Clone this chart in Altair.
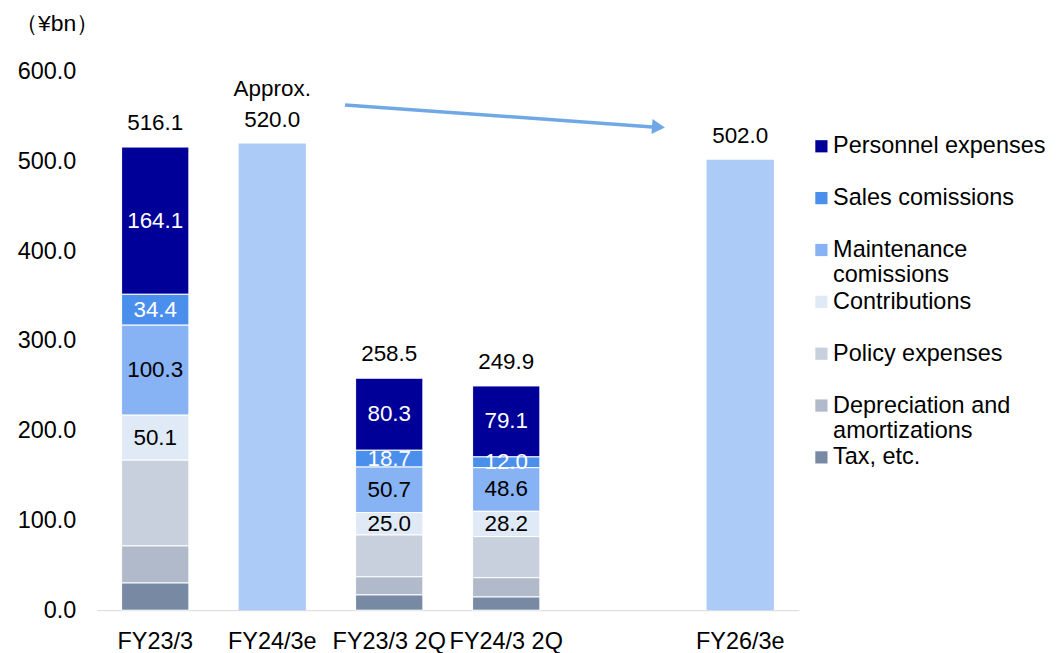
import altair as alt
import pandas as pd

# ---------------- data ----------------
categories = ["FY23/3", "FY24/3e", "FY23/3 2Q", "FY24/3 2Q", " ", "FY26/3e"]
series = ["Personnel expenses", "Sales comissions", "Maintenance comissions",
          "Contributions", "Policy expenses", "Depreciation and amortizations", "Tax, etc."]
series_colors = ["#000099", "#4B8FED", "#87B2F4", "#E0EAF6", "#C9D0DD", "#B1BACA", "#7889A4"]

actual_cats = ["FY23/3", "FY23/3 2Q", "FY24/3 2Q"]
personnel = [164.1, 80.3, 79.1]
sales = [34.4, 18.7, 12.0]
maintenance = [100.3, 50.7, 48.6]
contributions = [50.1, 25.0, 28.2]
policy = [95.6, 46.6, 45.8]
depreciation = [41.3, 20.2, 21.5]
tax = [30.3, 17.0, 14.7]

forecast_cats = ["FY24/3e", "FY26/3e"]
forecast_values = [520.0, 502.0]

total_cats = ["FY23/3", "FY24/3e", "FY23/3 2Q", "FY24/3 2Q", "FY26/3e"]
total_values = [516.1, 520.0, 258.5, 249.9, 502.0]

prefix_cats = ["FY24/3e"]
prefix_values = [520.0]
prefix_texts = ["Approx."]

labelled_series = ["Personnel expenses", "Sales comissions", "Maintenance comissions", "Contributions"]
light_text_series = ["Personnel expenses", "Sales comissions"]

arrow_from = ["FY24/3e"]
arrow_to = ["FY26/3e"]
arrow_y_from = [563.0]
arrow_y_to = [538.5]

y_ticks = [0, 100, 200, 300, 400, 500, 600]

# ---------------- tables ----------------
series_values = [personnel, sales, maintenance, contributions, policy, depreciation, tax]
rows = []
for i, (name, vals) in enumerate(zip(series, series_values)):
    for cat, v in zip(actual_cats, vals):
        rows.append({"cat": cat, "series": name, "value": v, "ord": len(series) - 1 - i})
seg_df = pd.DataFrame(rows)
fc_df = pd.DataFrame({"cat": forecast_cats, "value": forecast_values})
tot_df = pd.DataFrame({"cat": total_cats, "value": total_values})
pre_df = pd.DataFrame({"cat": prefix_cats, "value": prefix_values, "txt": prefix_texts})
arrow_df = pd.DataFrame({"x_from": arrow_from, "x_to": arrow_to,
                         "y_from": arrow_y_from, "y_to": arrow_y_to})

FONT = "Liberation Sans"
ARROW = "#70A8E6"

xscale = alt.Scale(domain=categories, paddingInner=0.425, paddingOuter=0.2125)
yscale = alt.Scale(domain=[0, 600], nice=False, zero=True)

x_enc = alt.X("cat:N", scale=xscale, sort=categories, title=None,
              axis=alt.Axis(labelAngle=0, labelFontSize=23.5, labelFont=FONT, labelColor="black",
                            ticks=False, tickSize=0, labelPadding=19, domainColor="#D9D9D9",
                            domainWidth=1, labelOverlap=False, labelLimit=300, grid=False))
y_axis = alt.Axis(values=y_ticks, format=".1f", labelFontSize=23.5, labelFont=FONT,
                  labelColor="black", ticks=False, tickSize=0, domain=False, grid=False,
                  labelPadding=21)

legend = alt.Legend(
    title=None, orient="none", legendX=715, legendY=63, symbolType="square", symbolSize=150,
    symbolStrokeWidth=0, labelFontSize=23.5, labelFont=FONT, labelColor="black", labelOffset=0,
    labelLimit=400, rowPadding=2, gridAlign="all", padding=0,
    labelExpr="datum.label == 'Maintenance comissions' ? ['Maintenance', 'comissions'] : "
              "datum.label == 'Depreciation and amortizations' ? ['Depreciation and', 'amortizations'] : datum.label",
)

bars = alt.Chart(seg_df).mark_bar(stroke="white", strokeWidth=1).encode(
    x=x_enc,
    y=alt.Y("value:Q", stack="zero", scale=yscale, axis=y_axis, title=None),
    color=alt.Color("series:N", scale=alt.Scale(domain=series, range=series_colors), legend=legend),
    order=alt.Order("ord:Q", sort="ascending"),
)

fc_bars = alt.Chart(fc_df).mark_bar(color="#ADCBF7").encode(
    x=alt.X("cat:N", scale=xscale, title=None),
    y=alt.Y("value:Q", scale=yscale, title=None),
)

seg_labels = alt.Chart(seg_df).transform_stack(
    stack="value", as_=["y0", "y1"], groupby=["cat"], sort=[alt.SortField("ord", order="ascending")]
).transform_calculate(
    mid="(datum.y0 + datum.y1) / 2"
).transform_filter(
    alt.FieldOneOfPredicate(field="series", oneOf=labelled_series)
).mark_text(fontSize=22.5, font=FONT, baseline="middle", align="center").encode(
    x=alt.X("cat:N", scale=xscale, title=None),
    y=alt.Y("mid:Q", scale=yscale, title=None),
    text=alt.Text("value:Q", format=".1f"),
    color=alt.condition(alt.FieldOneOfPredicate(field="series", oneOf=light_text_series),
                        alt.value("white"), alt.value("black")),
)

tot_labels = alt.Chart(tot_df).mark_text(fontSize=22.5, font=FONT, baseline="alphabetic",
                                         align="center", dy=-17, color="black").encode(
    x=alt.X("cat:N", scale=xscale, title=None),
    y=alt.Y("value:Q", scale=yscale, title=None),
    text=alt.Text("value:Q", format=".1f"),
)

pre_labels = alt.Chart(pre_df).mark_text(fontSize=22.5, font=FONT, baseline="alphabetic",
                                         align="center", dy=-48, color="black").encode(
    x=alt.X("cat:N", scale=xscale, title=None),
    y=alt.Y("value:Q", scale=yscale, title=None),
    text="txt:N",
)

arrow_line = alt.Chart(arrow_df).mark_rule(color=ARROW, strokeWidth=3.5, xOffset=73, x2Offset=-88).encode(
    x=alt.X("x_from:N", scale=xscale, title=None),
    x2="x_to:N",
    y=alt.Y("y_from:Q", scale=yscale, title=None),
    y2="y_to:Q",
)

arrow_head = alt.Chart(arrow_df).mark_point(shape="triangle-right", filled=True, size=225, angle=4,
                                            color=ARROW, opacity=1, xOffset=-82).encode(
    x=alt.X("x_to:N", scale=xscale, title=None),
    y=alt.Y("y_to:Q", scale=yscale, title=None),
)

chart = alt.layer(bars, fc_bars, seg_labels, tot_labels, pre_labels, arrow_line, arrow_head).properties(
    width=704, height=540,
    autosize=alt.AutoSizeParams(type="none"),
    padding={"left": 89, "top": 63, "right": 252, "bottom": 42},
    title=alt.TitleParams(text="（¥bn）", anchor="start", frame="group", dx=-82, offset=24,
                          fontSize=23, fontWeight="normal", font=FONT, color="black"),
).configure_view(stroke=None).configure_axis(grid=False)

chart.save("out.html", embed_options={"renderer": "svg", "actions": False})
